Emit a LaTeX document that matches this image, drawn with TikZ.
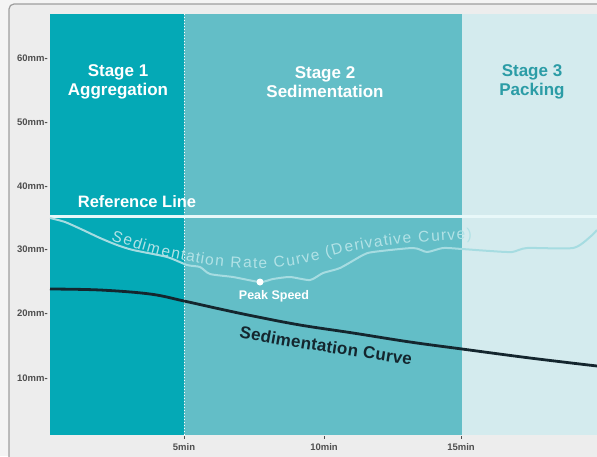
\documentclass[tikz,border=0pt]{standalone}
\usepackage{fontspec}
\setmainfont{Liberation Sans}
\usetikzlibrary{decorations.text}
\definecolor{outerbg}{HTML}{F4F4F4}
\definecolor{innerbg}{HTML}{EDEDED}
\definecolor{framec}{HTML}{9E9E9E}
\definecolor{stageA}{HTML}{04A9B6}
\definecolor{stageB}{HTML}{63BEC7}
\definecolor{stageC}{HTML}{D4EBEE}
\definecolor{refc}{HTML}{E8F8F9}
\definecolor{derivc}{HTML}{A6DCE1}
\definecolor{derivtext}{HTML}{B2E2E6}
\definecolor{sedc}{HTML}{14262E}
\definecolor{stage3text}{HTML}{2B9CA6}
\definecolor{axisc}{HTML}{4F4F4F}
\tikzset{
  stagetitle/.style={align=center, font=\bfseries\fontsize{17}{19}\selectfont, text=white},
  ylab/.style={anchor=east, font=\bfseries\fontsize{9.5}{10}\selectfont, text=axisc, inner sep=0pt},
  xlab/.style={font=\bfseries\fontsize{9.5}{10}\selectfont, text=axisc, inner sep=0pt},
  tickmark/.style={draw=axisc, line width=0.8pt}
}
\begin{document}
\begin{tikzpicture}[x=1pt,y=-1pt]
\useasboundingbox (0,0) rectangle (597,456);
\fill[outerbg] (0,0) rectangle (597,456);
\draw[framec, line width=1.2pt, rounded corners=5pt, fill=innerbg] (9,4) rectangle (610,470);
% stages
\fill[stageA] (50,14) rectangle (184,435);
\fill[stageB] (184,14) rectangle (462,435);
\fill[stageC] (462,14) rectangle (597,435);
\draw[white, dotted, line width=1pt] (184,14) -- (184,437);
% ticks
\foreach \xx in {184,324,461} \draw[tickmark] (\xx,436) -- (\xx,438.5);
% stage titles
\node[stagetitle] (s1) at (118,82) {Stage 1\\Aggregation};
\node[stagetitle] (s2) at (325,82) {Stage 2\\Sedimentation};
\node[stagetitle, text=stage3text] (s3) at (532,82) {Stage 3\\Packing};
% reference line
\draw[refc, line width=3pt] (50,216) -- (597,216);
\node[font=\bfseries\fontsize{16.5}{18}\selectfont, text=white] (refl) at (137,202) {Reference Line};
% axis labels
\node[ylab] (y60) at (48,58) {60mm-};
\node[ylab] (y50) at (48,122) {50mm-};
\node[ylab] (y40) at (48,186) {40mm-};
\node[ylab] (y30) at (48,249) {30mm-};
\node[ylab] (y20) at (48,313) {20mm-};
\node[ylab] (y10) at (48,378) {10mm-};
\node[xlab] (x5) at (184,447) {5min};
\node[xlab] (x10) at (324,447) {10min};
\node[xlab] (x15) at (461,447) {15min};
% derivative curve
\draw[derivc, line width=2pt, line join=round] plot[smooth, tension=0.4] coordinates {
 (50,218) (65,222) (83,230) (100,238) (117,245) (133,250) (167,257) (187,265) (200,267)
 (210,274) (233,277) (260,282) (273,279) (290,277) (310,280) (323,273) (340,268)
 (363,255) (373,252) (413,248) (427,252) (443,248) (462,249) (490,251) (512,252)
 (527,248) (573,248) (590,237) (597,230)};
% sedimentation curve
\draw[sedc, line width=2.8pt] plot[smooth, tension=0.6] coordinates {
 (50,289) (100,290) (150,294) (184,301) (220,309) (253,316) (300,325) (353,333)
 (410,342) (462,349) (530,358) (597,366)};
% peak speed
\fill[white] (260,282) circle (3.5);
\node[font=\bfseries\fontsize{12.5}{13}\selectfont, text=white] (peak) at (274,296) {Peak Speed};
% curve labels
\path[decorate, decoration={text effects along path,
   text={Sedimentation Rate Curve (Derivative Curve)},
   text effects/.cd, text along path, fit text to path,
   characters={text=derivtext, font=\fontsize{15.5}{15.5}\selectfont}}]
  (111,240) .. controls (150,254) and (200,267) .. (250,268)
  .. controls (290,269) and (310,262) .. (340,254)
  .. controls (380,245) and (420,241) .. (472,239);
\path[decorate, decoration={text effects along path,
   text={Sedimentation Curve},
   text effects/.cd, text along path, fit text to path,
   characters={text=sedc, font=\bfseries\fontsize{17}{17}\selectfont}}]
  (239,337) .. controls (290,348) and (360,357) .. (411,365);
\end{tikzpicture}
\end{document}
